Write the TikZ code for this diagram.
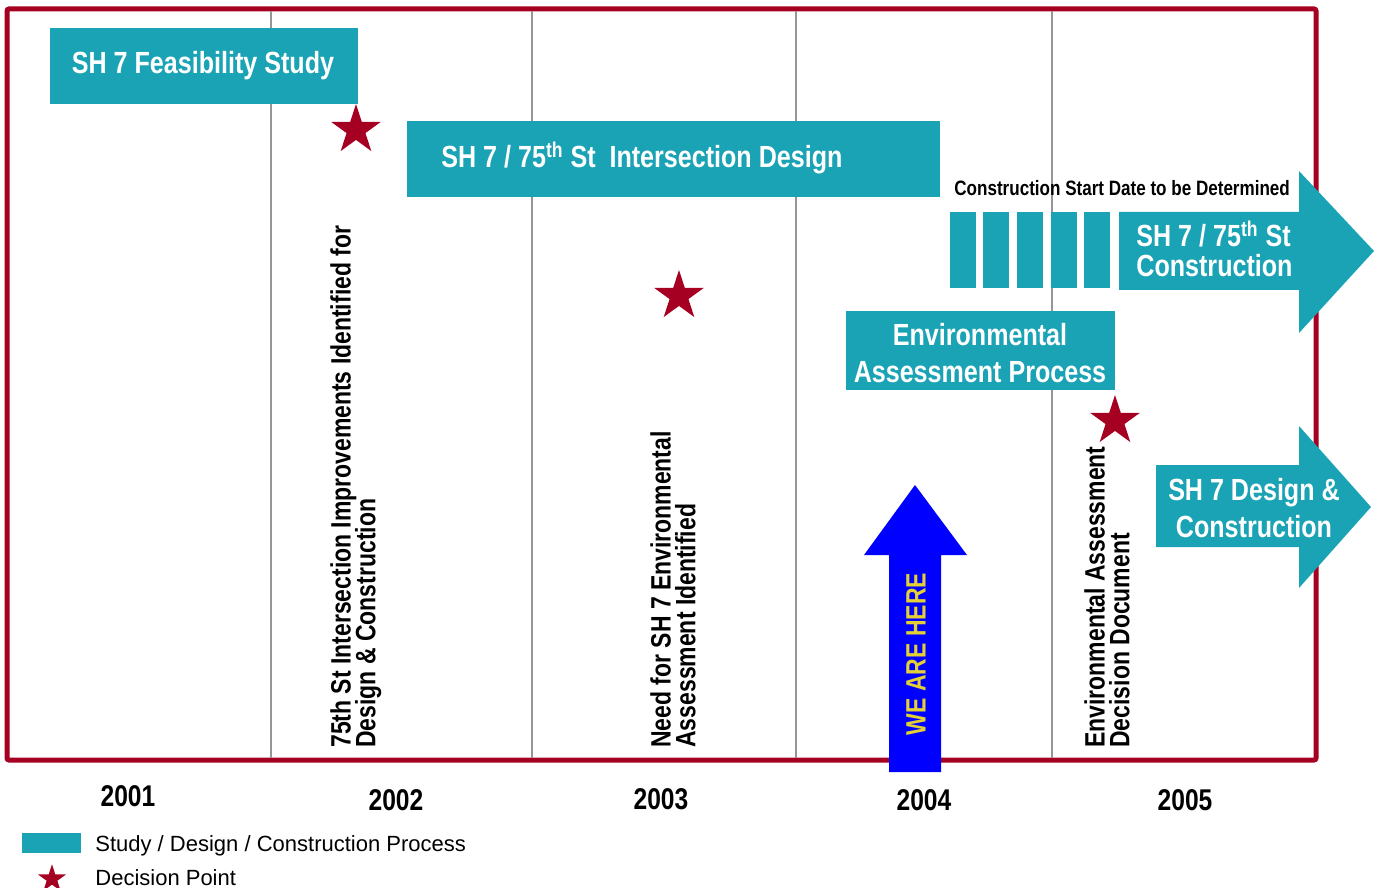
\documentclass[tikz,border=0pt]{standalone}
\usepackage{fontspec}
\setmainfont{Liberation Sans}
\newfontfamily\narrowfont[FakeStretch=0.82]{Liberation Sans}
\usetikzlibrary{shapes.geometric, positioning}
\definecolor{frameRed}{RGB}{165,0,33}
\definecolor{barTeal}{RGB}{26,163,181}
\definecolor{sepGray}{RGB}{150,150,150}
\definecolor{hereYellow}{RGB}{228,208,52}
\definecolor{hereBlue}{RGB}{0,0,255}
\newcommand\tightlines{\setlength{\lineskiplimit}{-20pt}}

\tikzset{
  phase/.style={fill=barTeal},
  phaselabel/.style={text=white, inner sep=0, align=center,
    font=\narrowfont\bfseries\fontsize{15.3}{18.5}\selectfont},
  decision/.style={star, star points=5, star point ratio=2.618,
    fill=frameRed, draw=none, inner sep=0, minimum size=26pt},
  milestone/.style={rotate=90, anchor=north west, align=left, inner sep=0,
    font=\narrowfont\bfseries\fontsize{14}{12.3}\selectfont\tightlines},
  yearlabel/.style={inner sep=0, font=\narrowfont\bfseries\fontsize{15}{18}\selectfont},
  legendtext/.style={anchor=base west, inner sep=0, font=\fontsize{11}{13}\selectfont}
}

\begin{document}
\begin{tikzpicture}[x=0.5pt, y=-0.5pt]
\useasboundingbox (0,0) rectangle (1378,888);

% frame and year separators
\draw[frameRed, line width=2.5pt, rounded corners=1pt] (7,9) rectangle (1316,760);
\foreach \xsep in {271,532,796,1052}
  \draw[sepGray, line width=0.7pt] (\xsep,11) -- (\xsep,758);

% study / design bars
\fill[phase] (50,28) rectangle (358,104);
\node[phaselabel, anchor=base] (feasibility) at (203,74) {SH 7 Feasibility Study};
\fill[phase] (407,121) rectangle (940,197);
\node[phaselabel, anchor=base west] (intdesign) at (441,168)
  {SH 7 / 75\textsuperscript{th} St\ \ Intersection Design};

% construction, date open
\node[inner sep=0, anchor=base west, font=\narrowfont\bfseries\fontsize{10.4}{12}\selectfont]
  (startdate) at (954,196) {Construction Start Date to be Determined};
\foreach \xbar in {950,983,1017,1051,1084}
  \fill[phase] (\xbar,212) rectangle ++(26,76);
\fill[phase] (1119,212) -- (1299,212) -- (1299,171) -- (1374,251)
  -- (1299,333) -- (1299,290) -- (1119,290) -- cycle;
\node[phaselabel, align=left, anchor=base west] (construct) at (1136,277)
  {SH 7 / 75\textsuperscript{th} St\\[-3.5pt]Construction};

% environmental assessment
\fill[phase] (846,311) rectangle (1115,390);
\node[phaselabel, anchor=base] (envproc) at (980,382)
  {Environmental\\Assessment Process};
\fill[phase] (1156,465) -- (1299,465) -- (1299,426) -- (1371,507)
  -- (1299,588) -- (1299,547) -- (1156,547) -- cycle;
\node[phaselabel, anchor=base] (sh7design) at (1254,537)
  {SH 7 Design \&\\Construction};

% decision points
\node[decision] (dp1) at (356,130) {};
\node[decision] (dp2) at (679,296) {};
\node[decision] (dp3) at (1115,421) {};

% milestone notes
\node[milestone] (note1) at (330,748)
  {75th St Intersection Improvements Identified for\\Design \& Construction};
\node[milestone] (note2) at (650,748)
  {Need for SH 7 Environmental\\Assessment Identified};
\node[milestone] (note3) at (1084,748)
  {Environmental Assessment\\Decision Document};

% we are here
\fill[hereBlue] (889,772) -- (889,555) -- (864,555) -- (915,485)
  -- (967,555) -- (941,555) -- (941,772) -- cycle;
\node[rotate=90, inner sep=0, text=hereYellow,
  font=\narrowfont\bfseries\fontsize{14}{16}\selectfont] (here) at (916,654) {WE ARE HERE};

% years
\node[yearlabel] (y2001) at (128,796) {2001};
\node[yearlabel] (y2002) at (396,800) {2002};
\node[yearlabel] (y2003) at (661,799) {2003};
\node[yearlabel] (y2004) at (924,800) {2004};
\node[yearlabel] (y2005) at (1185,800) {2005};

% legend
\fill[phase] (22,833) rectangle (81,853);
\node[legendtext] (legbar) at (95,851) {Study / Design / Construction Process};
\node[decision, minimum size=14.7pt] (legstar) at (52,879) {};
\node[legendtext] (legstarlbl) at (95,885) {Decision Point};
\end{tikzpicture}
\end{document}
